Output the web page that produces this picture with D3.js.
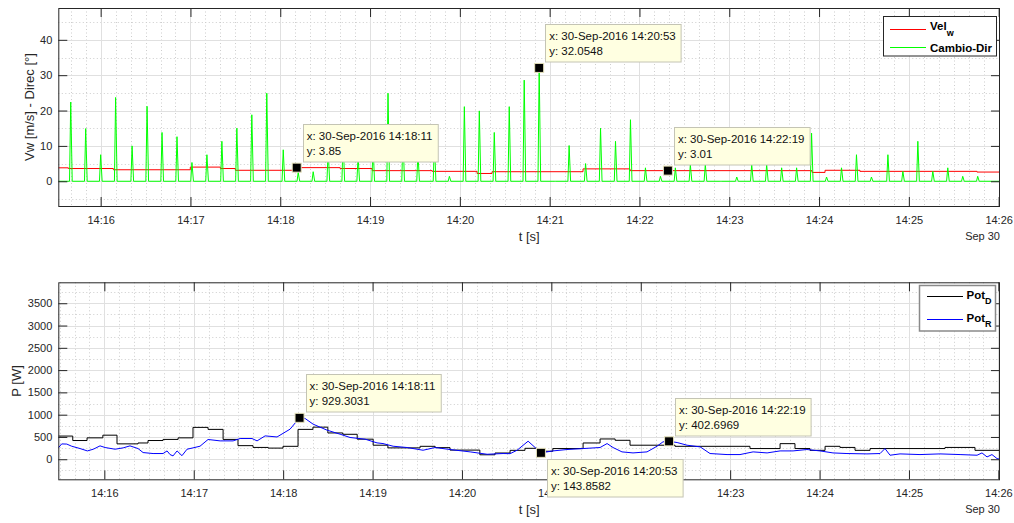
<!doctype html>
<html lang="en">
<head>
  <meta charset="utf-8">
  <title>Vw - Direc / Potencia</title>
  <style>
    body { margin: 0; background: #fff; }
    svg { display: block; font-family: "Liberation Sans", Arial, Helvetica, sans-serif; }
    .grid-major line { stroke: #e0e0e0; stroke-width: 1; }
    .grid-minor line { stroke: #cdcdcd; stroke-width: 1; stroke-dasharray: 1,2.5; }
    .axis line { stroke: #262626; }
    .axis path { display: none; }
    .axis text { fill: #262626; font-size: 11px; }
    .frame { fill: none; stroke: #262626; stroke-width: 1; }
    .lbl { fill: #262626; font-size: 13px; }
    .leg { font-size: 11.5px; font-weight: bold; fill: #000; }
    .tip text { font-size: 11.5px; fill: #111; }
  </style>
</head>
<body>
<div id="chart"></div>
<script src="https://cdn.jsdelivr.net/npm/d3@7"></script>
<script>
(function(){

  // all times are seconds after 30-Sep-2016 14:15:00
  // top panel: Vel_w (steps) and Cambio-Dir (spikes)
  var velSec = [31.7, 38.4, 68.5, 119.9, 140, 150, 191, 220, 241.4, 281.5, 311.5, 321.5, 382.3, 413.7, 535.3, 544, 567.3, 645.5];
  var velW   = [3.8, 3.6, 3.25, 4.0, 3.6, 3.1, 3.85, 3.6, 3.0, 2.8, 2.2, 2.7, 3.5, 3.0, 2.5, 3.1, 2.8, 2.6];

  var spikeSec = [40, 50, 60, 70, 81, 91, 101, 111, 121, 131, 141, 151, 161, 171, 182, 192, 202, 212, 222, 232,
                  242, 252, 262, 272, 283, 293, 303, 313, 323, 333, 343, 353, 363, 373, 384, 394, 404, 414, 424, 434,
                  444, 454, 464, 474, 485, 495, 505, 515, 525, 535, 545, 555, 565, 575, 586, 596, 606, 616, 626, 636, 646];
  var cambioDir = [22.4, 14.9, 7.5, 23.7, 10.0, 21.2, 13.8, 12.6, 5.3, 7.5, 11.3, 15.0, 18.8, 24.9, 8.9, 2.5, 2.7, 9, 12, 7,
                   10, 24.9, 13, 8, 11, 1.4, 21.1, 19.9, 13.8, 21.1, 28.6, 32.0548, 0, 10.1, 5.0, 15.0, 11.3, 17.4, 3.8, 1.4,
                   3.8, 4.7, 4.7, 0, 1.2, 4.7, 4.7, 3.8, 3.8, 13.6, 1.2, 3.8, 7.5, 1.2, 7.5, 2.8, 11.3, 2.8, 3.8, 1.4, 1.4];

  // bottom panel: Pot_D (steps) and Pot_R
  var potDSec = [29.1, 38.8, 48.4, 59, 68.5, 82.6, 89.3, 99.4, 109.5, 119.5, 129.6, 139.7, 149.7, 159.8, 169.9, 179.9,
                 190, 200, 210, 220, 229.7, 240.4, 250.3, 271.9, 282, 292, 312, 322.2, 332.3, 342.3, 350.4, 361,
                 381.3, 392.7, 402.8, 412.8, 443, 493.3, 513.5, 523.5, 533.6, 543.7, 553.7, 563.8, 573.9, 624.2, 644.3];
  var potD    = [520, 420, 480, 540, 345, 365, 420, 445, 480, 715, 670, 445, 305, 265, 250, 290,
                 670, 720, 590, 560, 450, 315, 255, 290, 260, 205, 100, 140, 200, 245, 180, 240,
                 365, 455, 425, 315, 290, 240, 350, 240, 200, 290, 265, 200, 240, 265, 200];

  var potRSec = [29.1, 31.4, 34.8, 38.1, 43.7, 48.6, 52.6, 57.1, 60.5, 67.2,
                 72.6, 77.2, 82.6, 86, 92.7, 99.4, 102.1, 104.1, 106.1, 108.8,
                 112.1, 115.5, 119.5, 124.2, 129.6, 137.7, 146.4, 151.1, 159.1, 162.5,
                 167.9, 175.9, 184.6, 191, 194.7, 200.1, 209.5, 218.2, 224.9, 235,
                 243, 247, 253.8, 263.2, 273.9, 282, 292, 305.5, 316.9, 327.6,
                 332.3, 337, 344.4, 349.1, 353, 361.1, 370.5, 381.3, 392.7, 397.4,
                 401.4, 407.4, 414.8, 424.2, 430.9, 434.9, 439, 444.4, 451.1, 459.9,
                 466.5, 477.9, 486.6, 495.4, 504.8, 513.5, 522.2, 531.5, 540.3, 549,
                 558.4, 571.8, 580.6, 583.9, 587.3, 594, 607.4, 620.8, 634.3, 645.7,
                 649, 652.4, 655.7, 659.1, 661.1];
  var potR    = [255, 344, 340, 292, 240, 187, 225, 300, 263, 225,
                 255, 300, 240, 150, 128, 128, 187, 105, 75, 187,
                 80, 225, 255, 292, 443, 412, 412, 465, 465, 412,
                 524, 500, 674, 929.3031, 915, 787, 652, 562, 488, 450,
                 367, 352, 292, 263, 202, 263, 218, 165, 112, 128,
                 125, 202, 405, 263, 143.8582, 187, 218, 240, 263, 352,
                 263, 165, 142, 165, 292, 390, 402.6969, 375, 315, 277,
                 128, 105, 105, 165, 142, 187, 187, 218, 187, 142,
                 128, 120, 128, 240, 90, 120, 105, 120, 105, 90,
                 142, 52, 105, 15, 0];

  // axis limits / ticks
  var xDomTop = [31.7, 660.9], xDomBot = [29.1, 661.1];
  var yDomTop = [-7, 49], yDomBot = [-450, 3970];
  var yTicksTop = [0, 10, 20, 30, 40];
  var yTicksBot = [0, 500, 1000, 1500, 2000, 2500, 3000, 3500];
  var yMinorTop = [-5, 5, 15, 25, 35, 45];
  var yMinorBot = [-250, 250, 750, 1250, 1750, 2250, 2750, 3250, 3750];

  // data tips
  var tipTimesTop = ["14:18:11", "14:20:53", "14:22:19"];
  var tipValsTop  = ["3.85", "32.0548", "3.01"];
  var tipTimesBot = ["14:18:11", "14:20:53", "14:22:19"];
  var tipValsBot  = ["929.3031", "143.8582", "402.6969"];

  var T0 = new Date(2016, 8, 30, 14, 15, 0);
  function at(s) { return new Date(T0.getTime() + s * 1000); }
  function hms(str) { var p = str.split(":").map(Number); return (p[0] - 14) * 3600 + (p[1] - 15) * 60 + p[2]; }
  var fmtTip = d3.timeFormat("%d-%b-%Y %H:%M:%S");

  var W = 1014, H = 523;
  var svg = d3.select("#chart").append("svg").attr("width", W).attr("height", H);

  function panel(id, box, xDom, yDom, yTicks, yMinor) {
    var x = d3.scaleTime().domain(xDom.map(at)).range([box.x0, box.x1]);
    var y = d3.scaleLinear().domain(yDom).range([box.y1, box.y0]);
    var g = svg.append("g");
    var xMajor = x.ticks(d3.timeMinute.every(1));
    var xMinor = x.ticks(d3.timeSecond.every(10));

    var gm = g.append("g").attr("class", "grid-minor");
    gm.selectAll(".vx").data(xMinor).enter().append("line")
      .attr("x1", function(d){ return Math.round(x(d)) + 0.5; }).attr("x2", function(d){ return Math.round(x(d)) + 0.5; })
      .attr("y1", box.y0).attr("y2", box.y1);
    gm.selectAll(".hy").data(yMinor).enter().append("line")
      .attr("y1", function(d){ return Math.round(y(d)) + 0.5; }).attr("y2", function(d){ return Math.round(y(d)) + 0.5; })
      .attr("x1", box.x0).attr("x2", box.x1);

    var gM = g.append("g").attr("class", "grid-major");
    gM.selectAll(".vx").data(xMajor).enter().append("line")
      .attr("x1", function(d){ return Math.round(x(d)) + 0.5; }).attr("x2", function(d){ return Math.round(x(d)) + 0.5; })
      .attr("y1", box.y0).attr("y2", box.y1);
    gM.selectAll(".hy").data(yTicks).enter().append("line")
      .attr("y1", function(d){ return Math.round(y(d)) + 0.5; }).attr("y2", function(d){ return Math.round(y(d)) + 0.5; })
      .attr("x1", box.x0).attr("x2", box.x1);

    g.append("clipPath").attr("id", "clip-" + id).append("rect")
      .attr("x", box.x0).attr("y", box.y0).attr("width", box.x1 - box.x0).attr("height", box.y1 - box.y0);
    var plot = g.append("g").attr("clip-path", "url(#clip-" + id + ")");

    // axes (ticks inward on all four sides)
    g.append("g").attr("class", "axis").attr("transform", "translate(0," + box.y1 + ")")
      .call(d3.axisBottom(x).tickValues(xMajor).tickFormat(d3.timeFormat("%H:%M"))
        .tickSizeInner(-9).tickSizeOuter(0).tickPadding(10));
    g.append("g").attr("class", "axis").attr("transform", "translate(0," + box.y0 + ")")
      .call(d3.axisTop(x).tickValues(xMajor).tickFormat("").tickSizeInner(-9).tickSizeOuter(0));
    g.append("g").attr("class", "axis").attr("transform", "translate(" + box.x0 + ",0)")
      .call(d3.axisLeft(y).tickValues(yTicks).tickFormat(d3.format("d"))
        .tickSizeInner(-9).tickSizeOuter(0).tickPadding(6));
    g.append("g").attr("class", "axis").attr("transform", "translate(" + box.x1 + ",0)")
      .call(d3.axisRight(y).tickValues(yTicks).tickFormat("").tickSizeInner(-9).tickSizeOuter(0));

    g.append("rect").attr("class", "frame")
      .attr("x", box.x0 + 0.5).attr("y", box.y0 + 0.5)
      .attr("width", box.x1 - box.x0 - 1).attr("height", box.y1 - box.y0);

    g.append("text").attr("x", box.x1).attr("y", box.y1 + 34)
      .attr("text-anchor", "end").style("font-size", "11px").style("fill", "#262626").text("Sep 30");
    g.append("text").attr("class", "lbl").attr("x", (box.x0 + box.x1) / 2).attr("y", box.y1 + 34.5)
      .attr("text-anchor", "middle").text("t [s]");

    return {x: x, y: y, g: g, plot: plot, box: box};
  }

  function tips(p, times, vals, places) {
    var layer = svg.append("g").attr("class", "tip");
    times.forEach(function(t, i) {
      var s = hms(t), v = +vals[i];
      var mx = p.x(at(s)), my = p.y(v);
      var tg = layer.append("g");
      var rect = tg.append("rect").attr("fill", "#ffffe1").attr("stroke", "#c4c4b4").attr("stroke-width", 1);
      var t1 = tg.append("text").text("x: " + fmtTip(at(s)));
      var t2 = tg.append("text").text("y: " + vals[i]);
      var w = Math.max(t1.node().getComputedTextLength(), t2.node().getComputedTextLength()) + 9;
      var h = 37.5;
      var bx = mx + 6;
      var by = places[i] === "up" ? my - 6 - h : my + 6;
      rect.attr("x", Math.round(bx) + 0.5).attr("y", Math.round(by) + 0.5).attr("width", w).attr("height", h);
      t1.attr("x", bx + 4).attr("y", by + 15.8);
      t2.attr("x", bx + 4).attr("y", by + 30.8);
      tg.append("rect").attr("x", mx - 4.5).attr("y", my - 4.5).attr("width", 9).attr("height", 9)
        .attr("fill", "#000").attr("stroke", "#e6e2bc").attr("stroke-width", 1);
    });
  }

  // ---- top panel ----
  var top = panel("top", {x0: 58.3, x1: 1000, y0: 8, y1: 206}, xDomTop, yDomTop, yTicksTop, yMinorTop);

  var velPts = velSec.map(function(s, i){ return [s, velW[i]]; });
  velPts.push([xDomTop[1], velW[velW.length - 1]]);
  top.plot.append("path").datum(velPts)
    .attr("fill", "none").attr("stroke", "#ff0000").attr("stroke-width", 1)
    .attr("d", d3.line().curve(d3.curveStepAfter)
      .x(function(d){ return top.x(at(d[0])); }).y(function(d){ return top.y(d[1]); }));

  var dirPts = [[xDomTop[0], 0]];
  spikeSec.forEach(function(s, i){
    dirPts.push([s - 0.8, 0], [s, cambioDir[i]], [s + 1, 0]);
  });
  dirPts.push([xDomTop[1], 0]);
  top.plot.append("path").datum(dirPts)
    .attr("fill", "none").attr("stroke", "#00ff00").attr("stroke-width", 1)
    .attr("d", d3.line()
      .x(function(d){ return top.x(at(d[0])); }).y(function(d){ return top.y(d[1]); }));

  top.g.append("text").attr("class", "lbl").attr("transform", "translate(34,107) rotate(-90)")
    .attr("text-anchor", "middle").text("Vw [m/s] - Direc [°]");

  // legend top
  var lt = top.g.append("g");
  lt.append("rect").attr("x", 883.5).attr("y", 16.5).attr("width", 113).attr("height", 39.5)
    .attr("fill", "#fff").attr("stroke", "#262626").attr("stroke-width", 1);
  lt.append("line").attr("x1", 890).attr("x2", 926).attr("y1", 29.5).attr("y2", 29.5).attr("stroke", "#ff0000");
  lt.append("line").attr("x1", 890).attr("x2", 926).attr("y1", 47.5).attr("y2", 47.5).attr("stroke", "#00ff00");
  var l1 = lt.append("text").attr("class", "leg").attr("x", 930).attr("y", 30);
  l1.append("tspan").text("Vel");
  l1.append("tspan").attr("dy", 6).style("font-size", "9px").text("w");
  lt.append("text").attr("class", "leg").attr("x", 930).attr("y", 52.3).text("Cambio-Dir");

  // ---- bottom panel ----
  var bot = panel("bot", {x0: 58.3, x1: 1000, y0: 282.3, y1: 479.3}, xDomBot, yDomBot, yTicksBot, yMinorBot);

  var dPts = potDSec.map(function(s, i){ return [s, potD[i]]; });
  dPts.push([xDomBot[1], potD[potD.length - 1]]);
  bot.plot.append("path").datum(dPts)
    .attr("fill", "none").attr("stroke", "#000").attr("stroke-width", 1)
    .attr("d", d3.line().curve(d3.curveStepAfter)
      .x(function(d){ return bot.x(at(d[0])); }).y(function(d){ return bot.y(d[1]); }));

  bot.plot.append("path").datum(potRSec.map(function(s, i){ return [s, potR[i]]; }))
    .attr("fill", "none").attr("stroke", "#0000ff").attr("stroke-width", 1)
    .attr("d", d3.line()
      .x(function(d){ return bot.x(at(d[0])); }).y(function(d){ return bot.y(d[1]); }));

  bot.g.append("text").attr("class", "lbl").attr("transform", "translate(21,381) rotate(-90)")
    .attr("text-anchor", "middle").text("P [W]");

  var lb = bot.g.append("g");
  lb.append("rect").attr("x", 919.5).attr("y", 285.5).attr("width", 76).attr("height", 45.5)
    .attr("fill", "#fff").attr("stroke", "#8a8a8a").attr("stroke-width", 1.5);
  lb.append("line").attr("x1", 927).attr("x2", 963).attr("y1", 296.5).attr("y2", 296.5).attr("stroke", "#000");
  lb.append("line").attr("x1", 927).attr("x2", 963).attr("y1", 319.5).attr("y2", 319.5).attr("stroke", "#0000ff");
  var p1 = lb.append("text").attr("class", "leg").attr("x", 966.5).attr("y", 299);
  p1.append("tspan").text("Pot");
  p1.append("tspan").attr("dy", 5).style("font-size", "9px").text("D");
  var p2 = lb.append("text").attr("class", "leg").attr("x", 966.5).attr("y", 321.5);
  p2.append("tspan").text("Pot");
  p2.append("tspan").attr("dy", 5).style("font-size", "9px").text("R");

  // data tips on top of everything
  tips(top, tipTimesTop, tipValsTop, ["up", "up", "up"]);
  tips(bot, tipTimesBot, tipValsBot, ["up", "down", "up"]);

})();
</script>
</body>
</html>
